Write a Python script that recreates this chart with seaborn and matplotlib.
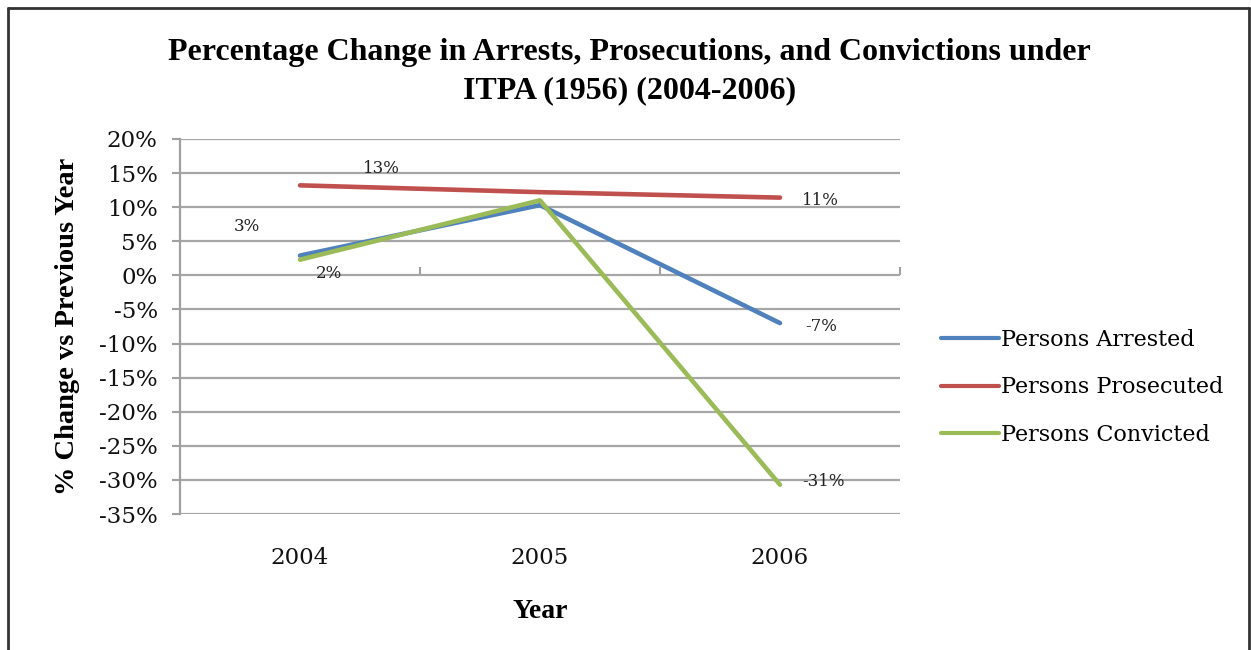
import matplotlib
matplotlib.use("Agg")
import matplotlib.pyplot as plt
import seaborn as sns
import pandas as pd
from matplotlib.lines import Line2D

years = ["2004", "2005", "2006"]
arrested = [2.9, 10.3, -7.0]
prosecuted = [13.2, 12.2, 11.4]
convicted = [2.3, 11.0, -30.7]
series_names = ["Persons Arrested", "Persons Prosecuted", "Persons Convicted"]
colors = ["#4F81BD", "#C0504D", "#9BBB59"]
y_ticks = [20, 15, 10, 5, 0, -5, -10, -15, -20, -25, -30, -35]

# labels shown: (series index, year index, text)
label_text = {(0, 0): "3%", (0, 2): "-7%", (1, 0): "13%", (1, 2): "11%",
              (2, 0): "2%", (2, 2): "-31%"}

sns.set_theme(style="white")
plt.rcParams['font.family'] = ['DejaVu Serif']

df = pd.DataFrame({
    "Year": years * 3,
    "x": [0, 1, 2] * 3,
    "value": arrested + prosecuted + convicted,
    "series": sum([[n] * 3 for n in series_names], []),
})

fig = plt.figure(figsize=(12.51, 6.5), dpi=100)
ax = fig.add_axes([0.1439, 0.2092, 0.5755, 0.577])

sns.lineplot(data=df, x="x", y="value", hue="series", palette=colors,
             hue_order=series_names, linewidth=3.3, ax=ax, legend=False,
             solid_capstyle="round")

ax.set_xlim(-0.5, 2.5)
ax.set_ylim(-35, 20)
ax.set_yticks(y_ticks)
ax.set_yticklabels([f"{t}%" for t in y_ticks], fontsize=16.5, color="#111111")
ax.set_xticks([0, 1, 2])
ax.set_xticklabels(years, fontsize=16.5, color="#111111")
ax.tick_params(axis="x", length=0, pad=24)
ax.tick_params(axis="y", length=6, width=1.5, color="#A0A0A0", pad=10, direction="out", left=True)
ax.grid(axis="y", color="#A6A6A6", linewidth=1.6)
ax.set_axisbelow(True)
for s in ["top", "right", "bottom"]:
    ax.spines[s].set_visible(False)
ax.spines["left"].set_color("#A0A0A0")
ax.spines["left"].set_linewidth(1.6)

# horizontal category axis at 0%
sec = ax.secondary_xaxis(35 / 55)
sec.set_xticks([0.5, 1.5, 2.5])
sec.set_xticklabels([])
sec.tick_params(axis="x", direction="out", length=6, width=1.5, color="#A0A0A0")
sec.spines["bottom"].set_color("#A0A0A0")
sec.spines["bottom"].set_linewidth(1.6)
for s in ["top", "left", "right"]:
    sec.spines[s].set_visible(False)

ax.set_xlabel("Year", fontsize=20, fontweight="bold", family="Liberation Serif",
              labelpad=21, color="black")
ax.set_ylabel("% Change vs Previous Year", fontsize=20.5, fontweight="bold",
              family="Liberation Serif", labelpad=14, color="black")

# data labels
vals = [arrested, prosecuted, convicted]
offsets = {(0, 0): (-0.22, 4.3), (0, 2): (0.17, -0.5), (1, 0): (0.34, 2.4),
           (1, 2): (0.17, -0.4), (2, 0): (0.12, -2.0), (2, 2): (0.18, 0.4)}
for (si, yi), txt in label_text.items():
    dx, dy = offsets[(si, yi)]
    ax.text(yi + dx, vals[si][yi] + dy, txt, fontsize=12, color="#222222",
            ha="center", va="center")

fig.suptitle("Percentage Change in Arrests, Prosecutions, and Convictions under\nITPA (1956) (2004-2006)",
             x=0.503, y=0.942, fontsize=23, fontweight="bold", family="Liberation Serif",
             linespacing=1.42, color="black")

handles = [Line2D([0], [0], color=c, linewidth=3, solid_capstyle="round") for c in colors]
fig.legend(handles, series_names, loc="center left", bbox_to_anchor=(0.736, 0.404),
           frameon=False, fontsize=16, handlelength=2.6, handletextpad=0.1,
           labelspacing=1.15, labelcolor="black")

# outer frame
for xs, ys in [([0.0064, 0.0064], [0, 0.988]), ([0.9984, 0.9984], [0, 0.988]),
               ([0.0064, 0.9984], [0.988, 0.988])]:
    fig.add_artist(Line2D(xs, ys, transform=fig.transFigure, color="#333333", linewidth=2))

fig.savefig("out.png", dpi=100)
